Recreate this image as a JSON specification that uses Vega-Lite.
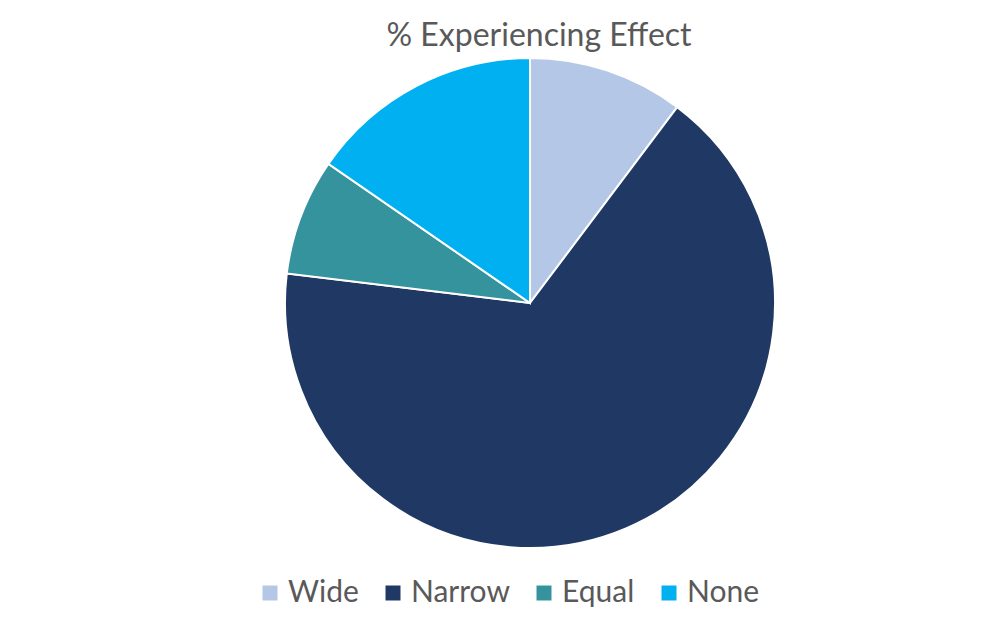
{
  "$schema": "https://vega.github.io/schema/vega-lite/v6.json",
  "autosize": {"type": "none"},
  "padding": {"left": 58, "right": 0, "top": 58, "bottom": 82},
  "width": 944,
  "height": 490,
  "background": "white",
  "config": {"view": {"stroke": null}, "font": "Lato"},
  "title": {
    "text": "% Experiencing Effect",
    "font": "Lato",
    "fontSize": 32,
    "fontWeight": "normal",
    "color": "#595959",
    "offset": 1,
    "dx": 9
  },
  "data": {
    "values": [
      {"Response": "Wide", "Count": 4, "Rank": 1},
      {"Response": "Narrow", "Count": 26, "Rank": 2},
      {"Response": "Equal", "Count": 3, "Rank": 3},
      {"Response": "None", "Count": 6, "Rank": 4}
    ]
  },
  "mark": {"type": "arc", "outerRadius": 245, "stroke": "white", "strokeWidth": 2},
  "encoding": {
    "theta": {"field": "Count", "type": "quantitative", "stack": true},
    "order": {"field": "Rank", "type": "quantitative", "sort": "ascending"},
    "color": {
      "field": "Response",
      "type": "nominal",
      "sort": ["Wide", "Narrow", "Equal", "None"],
      "scale": {
        "domain": ["Wide", "Narrow", "Equal", "None"],
        "range": ["#B4C7E7", "#203864", "#35939E", "#00B0F0"]
      },
      "legend": {
        "title": null,
        "orient": "none",
        "direction": "horizontal",
        "legendX": 197,
        "legendY": 520,
        "symbolType": "square",
        "symbolSize": 225,
        "symbolStrokeWidth": 0,
        "labelFont": "Lato",
        "labelFontSize": 30,
        "labelColor": "#595959",
        "labelOffset": 3,
        "columnPadding": 19,
        "labelLimit": 300
      }
    }
  }
}
